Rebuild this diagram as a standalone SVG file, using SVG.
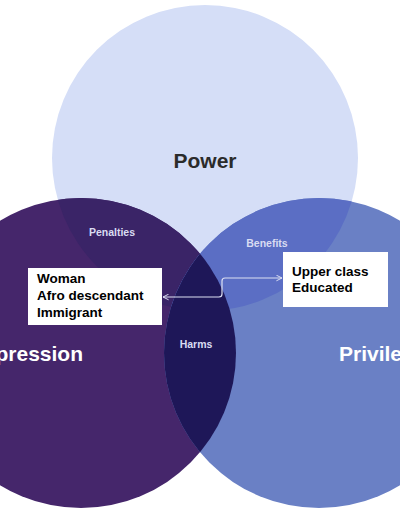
<svg xmlns="http://www.w3.org/2000/svg" width="400" height="516" viewBox="0 0 400 516">
<style>
.lbl{font-family:"Liberation Sans",Arial,sans-serif;font-weight:bold;font-size:10.5px;fill:#d9dcf2;text-anchor:middle}
.big{font-family:"Liberation Sans",Arial,sans-serif;font-weight:bold;font-size:21px}
.box{fill:#ffffff}
.bt{font-family:"Liberation Sans",Arial,sans-serif;font-weight:bold;font-size:13.5px;fill:#000000}
.con{fill:none;stroke:#dcdff2;stroke-width:1.2}
</style>
<defs>
<clipPath id="cTop"><circle cx="205" cy="158" r="153"/></clipPath>
<clipPath id="cLeft"><circle cx="81" cy="353" r="155"/></clipPath>
<marker id="arr" viewBox="0 0 10 10" refX="9" refY="5" markerWidth="7" markerHeight="7" orient="auto-start-reverse" markerUnits="userSpaceOnUse">
<path d="M1,1 L9,5 L1,9" fill="none" stroke="#dcdff2" stroke-width="1.4"/>
</marker>
</defs>
<rect width="400" height="516" fill="#ffffff"/>
<g id="power">
<circle cx="205" cy="158" r="153" fill="#d5def7"/>
<text class="big" x="205" y="168" text-anchor="middle" fill="#2b2b2b">Power</text>
</g>
<g id="oppression">
<circle cx="81" cy="353" r="155" fill="#45266b"/>
<circle cx="81" cy="353" r="155" fill="#3a2467" clip-path="url(#cTop)"/>
</g>
<g id="privilege">
<circle cx="319" cy="353" r="155" fill="#6a80c5"/>
<circle cx="319" cy="353" r="155" fill="#5b6ec4" clip-path="url(#cTop)"/>
</g>
<g id="harms-region">
<circle cx="319" cy="353" r="155" fill="#1e1758" clip-path="url(#cLeft)"/>
</g>
<g id="labels">
<text class="lbl" x="112" y="236">Penalties</text>
<text class="lbl" x="267" y="247">Benefits</text>
<text class="lbl" x="196" y="348">Harms</text>
<text class="big" x="83" y="361" text-anchor="end" fill="#ffffff">Oppression</text>
<text class="big" x="339" y="361" fill="#ffffff">Privilege</text>
</g>
<g id="box-left">
<rect class="box" x="28" y="268" width="134" height="57"/>
<text class="bt" x="37" y="283">Woman</text>
<text class="bt" x="37" y="300">Afro descendant</text>
<text class="bt" x="37" y="317">Immigrant</text>
</g>
<g id="box-right">
<rect class="box" x="283" y="252" width="105" height="55"/>
<text class="bt" x="292" y="276">Upper class</text>
<text class="bt" x="292" y="292">Educated</text>
</g>
<g id="connectors">
<path class="con" d="M163,297 L219,297 Q222,297 222,294 L222,281 Q222,278 225,278 L282,278" marker-start="url(#arr)" marker-end="url(#arr)"/>
</g>
</svg>
